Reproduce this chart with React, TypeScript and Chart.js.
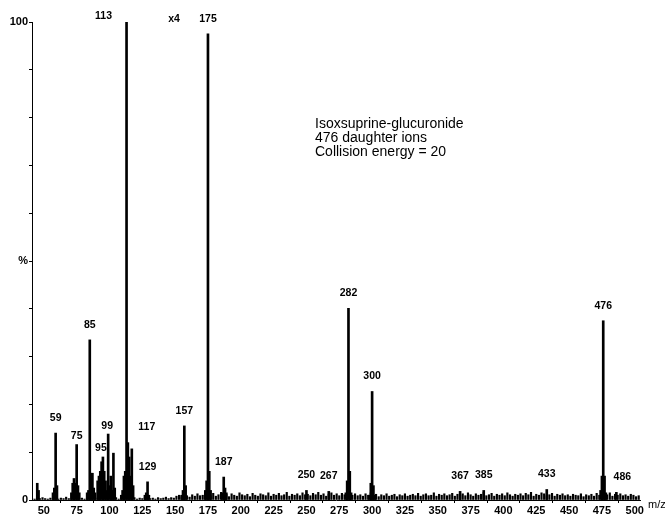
import React, { useEffect, useRef } from "react";
import { Chart, registerables } from "chart.js";

Chart.register(...registerables);

// Main ion peaks (m/z, relative intensity %)
const peakMz = [
  45, 46, 57, 58, 59, 60, 71, 72, 73, 74, 75, 76, 77, 83, 84, 85, 86, 87, 88, 89,
  91, 92, 93, 94, 95, 96, 97, 98, 99, 100, 101, 102, 103, 104, 109, 110, 111, 112,
  113, 114, 115, 116, 117, 118, 127, 128, 129, 130, 155, 156, 157, 158, 173, 174,
  175, 176, 177, 186, 187, 188, 189, 250, 267, 280, 281, 282, 283, 284, 298, 299,
  300, 301, 302, 367, 385, 433, 474, 475, 476, 477, 478, 486,
];
const peakIntensity = [
  3.5, 2.0, 1.5, 2.5, 14.0, 3.0, 1.5, 3.5, 4.5, 3.5, 11.6, 3.0, 1.5, 1.5, 2.0, 33.5, 5.6, 5.6, 2.5, 1.5,
  4.0, 5.0, 6.0, 8.0, 9.0, 6.0, 4.0, 2.0, 13.8, 3.0, 5.0, 2.0, 9.8, 2.5, 1.0, 2.0, 5.0, 6.0,
  100, 12.0, 9.0, 5.0, 10.7, 3.0, 1.0, 1.5, 3.8, 1.0, 1.0, 2.0, 15.5, 3.0, 2.0, 4.0,
  97.5, 6.0, 2.0, 1.5, 4.8, 2.5, 1.5, 2.0, 1.8, 1.5, 4.0, 40.1, 6.0, 1.5, 1.0, 3.5,
  22.7, 3.0, 1.0, 1.8, 2.0, 2.2, 2.0, 5.0, 37.5, 5.0, 1.5, 1.6,
];

// Baseline noise, m/z 41..129 step 2
const noiseLowStart = 41;
const noiseLow = [
  0.3, 0.2, 0.4, 0.3, 0.5, 0.3, 0.2, 0.4, 0.3, 0.5,
  0.2, 0.4, 0.3, 0.6, 0.3, 0.2, 0.4, 0.5, 0.3, 0.4,
  0.2, 0.5, 0.3, 0.4, 0.6, 0.3, 0.2, 0.4, 0.3, 0.5,
  0.4, 0.3, 0.5, 0.2, 0.4, 0.3, 0.6, 0.4, 0.3, 0.5,
  0.2, 0.4, 0.3, 0.5, 0.4,
];
// Baseline noise, m/z 131..503 step 2
const noiseHighStart = 131;
const noiseHigh = [
  0.3, 0.4, 0.2, 0.5, 0.3, 0.4, 0.6, 0.3, 0.5, 0.4, 0.8, 1.0, 0.7, 1.2, 0.9, 0.6, 1.1, 0.8, 1.3, 0.9,
  1.0, 0.7, 1.2, 0.9, 1.4, 0.8, 1.1, 1.6, 0.9, 1.2, 0.7, 1.3, 1.0, 0.8, 1.5, 1.1, 0.9, 1.2, 0.7, 1.4,
  1.0, 0.8, 1.3, 1.1, 0.9, 1.5, 0.8, 1.2, 1.0, 1.4, 0.9, 1.1, 1.6, 0.8, 1.2, 1.0, 1.3, 0.9, 1.5, 1.1,
  1.2, 0.9, 1.4, 1.1, 1.6, 1.0, 1.3, 0.8, 1.2, 1.5, 1.0, 1.3, 0.9, 1.4, 1.1, 0.8, 1.2, 1.0, 1.3, 0.9,
  1.1, 0.8, 1.3, 1.0, 1.5, 0.9, 1.2, 0.7, 1.1, 0.9, 1.3, 0.8, 1.0, 1.2, 0.7, 1.1, 0.9, 1.3, 0.8, 1.0,
  1.2, 0.9, 1.4, 0.8, 1.1, 1.3, 0.9, 1.0, 1.5, 0.8, 1.2, 1.0, 1.3, 0.9, 1.1, 1.4, 0.8, 1.2, 1.0, 1.3,
  0.9, 1.5, 1.1, 0.8, 1.3, 1.0, 1.2, 1.6, 0.9, 1.1, 1.4, 0.8, 1.2, 1.0, 1.3, 0.9, 1.5, 1.1, 0.8, 1.2,
  1.0, 1.3, 0.9, 1.4, 1.1, 1.6, 0.8, 1.2, 1.0, 1.5, 1.3, 0.9, 1.1, 1.4, 0.8, 1.2, 1.0, 1.3, 0.9, 1.1,
  0.8, 1.2, 1.0, 0.9, 1.3, 0.7, 1.1, 0.9, 1.2, 0.8, 1.4, 1.0, 1.3, 0.9, 1.1, 1.5, 0.8, 1.2, 1.0, 1.3,
  0.9, 1.1, 0.8, 1.2, 1.0, 0.7, 0.9,
];

// Labelled peaks
const labelledMz = [59, 75, 85, 95, 99, 113, 117, 129, 157, 175, 187, 250, 267, 282, 300, 367, 385, 433, 476, 486];

const xTickValues = [50, 75, 100, 125, 150, 175, 200, 225, 250, 275, 300, 325, 350, 375, 400, 425, 450, 475, 500];

const annotationLines = ["Isoxsuprine-glucuronide", "476 daughter ions", "Collision energy = 20"];
const magnifierText = "x4";
const magnifierMz = 175;
const axisUnit = "m/z";

const FONT = "'Liberation Sans', Arial, sans-serif";

// label pixel adjustments (styling only)
const labelAdjust: Record<number, { dx?: number; dy?: number }> = {
  75: { dy: -8 },
  95: { dx: -2, dy: -9 },
  99: { dx: -1, dy: -8 },
  113: { dx: -23, dy: -6 },
  117: { dx: 15, dy: -22 },
  486: { dx: 6 },
};

const labelPlugin = {
  id: "peakLabels",
  afterDatasetsDraw(chart: any) {
    const { ctx, scales, chartArea } = chart;
    const xs = scales.x;
    const ys = scales.y;
    ctx.save();
    ctx.fillStyle = "#000";
    ctx.textAlign = "center";
    ctx.textBaseline = "middle";
    ctx.font = `bold 10.5px ${FONT}`;
    labelledMz.forEach((mz) => {
      const idx = peakMz.indexOf(mz);
      if (idx < 0) return;
      const adj = labelAdjust[mz] || {};
      const px = xs.getPixelForValue(mz) + (adj.dx ?? 0);
      const py = ys.getPixelForValue(peakIntensity[idx]) + (adj.dy ?? -15);
      ctx.fillText(String(mz), px, py);
      if (mz === magnifierMz) {
        ctx.fillText(magnifierText, px - 34, py);
      }
    });
    // axis unit
    ctx.font = `11px ${FONT}`;
    ctx.textAlign = "left";
    ctx.fillText(axisUnit, chartArea.right + 8, chartArea.bottom + 5);
    // annotation block
    ctx.font = `14px ${FONT}`;
    ctx.textAlign = "left";
    annotationLines.forEach((line, i) => {
      ctx.fillText(line, 315, 124 + i * 14);
    });
    ctx.restore();
  },
};

export default function App() {
  const ref = useRef<HTMLCanvasElement>(null);
  useEffect(() => {
    const peaks = peakMz.map((m, i) => ({ x: m, y: peakIntensity[i] }));
    const noise = [
      ...noiseLow.map((v, i) => ({ x: noiseLowStart + i * 2, y: v })),
      ...noiseHigh.map((v, i) => ({ x: noiseHighStart + i * 2, y: v })),
    ];
    const chart = new Chart(ref.current as HTMLCanvasElement, {
      type: "bar",
      data: {
        datasets: [
          { data: noise as any, backgroundColor: "#000", barThickness: 1.5, grouped: false } as any,
          { data: peaks as any, backgroundColor: "#000", barThickness: 2, grouped: false } as any,
        ],
      },
      options: {
        animation: false,
        responsive: false,
        devicePixelRatio: 1,
        layout: { padding: { top: 22, right: 25, bottom: 0, left: 0 } },
        plugins: { legend: { display: false }, tooltip: { enabled: false } },
        scales: {
          x: {
            type: "linear",
            min: 41,
            max: 504,
            offset: false,
            afterFit: (axis: any) => {
              axis.height = 18;
            },
            afterBuildTicks: (axis: any) => {
              axis.ticks = xTickValues.map((v) => ({ value: v }));
            },
            grid: { display: true, drawOnChartArea: false, drawTicks: true, tickLength: 3, color: "#000" },
            border: { display: true, color: "#000", width: 1 },
            ticks: {
              autoSkip: false,
              maxRotation: 0,
              color: "#000",
              padding: 1,
              font: { family: FONT, size: 11, weight: "bold" },
            },
          },
          y: {
            min: 0,
            max: 100,
            afterFit: (axis: any) => {
              axis.width = 32;
            },
            grid: { display: true, drawOnChartArea: false, drawTicks: true, tickLength: 3, color: "#000" },
            border: { display: true, color: "#000", width: 1 },
            ticks: {
              stepSize: 10,
              autoSkip: false,
              color: "#000",
              padding: 1,
              font: { family: FONT, size: 11, weight: "bold" },
              callback: (v: any) => (v === 0 ? "0" : v === 50 ? "%" : v === 100 ? "100" : ""),
            },
          },
        },
      } as any,
      plugins: [labelPlugin],
    });
    return () => chart.destroy();
  }, []);
  return (
    <div style={{ position: "fixed", left: 0, top: 0, width: 665, height: 518, background: "#fff" }}>
      <canvas ref={ref} width={665} height={518} style={{ display: "block" }} />
    </div>
  );
}
